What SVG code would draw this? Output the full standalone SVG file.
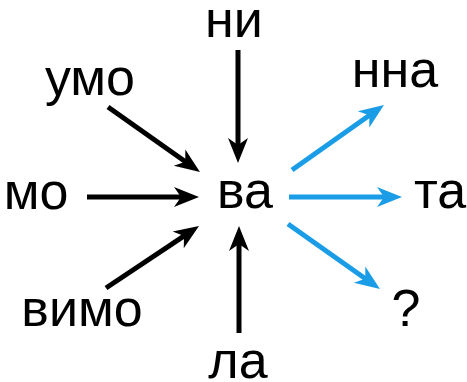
<svg xmlns="http://www.w3.org/2000/svg" width="467" height="382" viewBox="0 0 467 382">
<defs>
<style>
.t{font-family:"Liberation Sans",Arial,sans-serif;font-size:52px;fill:#000;text-anchor:middle}
.k{stroke:#000;stroke-width:5;fill:none}
.b{stroke:#1a9de6;stroke-width:5;fill:none}
</style>
<marker id="ak" markerUnits="userSpaceOnUse" markerWidth="26" markerHeight="22" viewBox="0 0 26 22" refX="9" refY="11" orient="auto"><path d="M0,1 L25,11 L0,21 L7,11 Z" fill="#000"/></marker>
<marker id="ab" markerUnits="userSpaceOnUse" markerWidth="26" markerHeight="22" viewBox="0 0 26 22" refX="9" refY="11" orient="auto"><path d="M0,1 L25,11 L0,21 L7,11 Z" fill="#1a9de6"/></marker>
</defs>
<rect width="467" height="382" fill="#fff"/>
<g id="connectors">
<line class="k" x1="238" y1="50" x2="238" y2="147" marker-end="url(#ak)"/>
<line class="k" x1="108" y1="107" x2="186.9" y2="162.8" marker-end="url(#ak)"/>
<line class="k" x1="87" y1="197" x2="183" y2="197" marker-end="url(#ak)"/>
<line class="k" x1="106" y1="288" x2="185.7" y2="234.9" marker-end="url(#ak)"/>
<line class="k" x1="239" y1="333" x2="239" y2="242" marker-end="url(#ak)"/>
<line class="b" x1="292" y1="170" x2="370.9" y2="114.2" marker-end="url(#ab)"/>
<line class="b" x1="289" y1="197" x2="386" y2="197" marker-end="url(#ab)"/>
<line class="b" x1="288" y1="224" x2="366.9" y2="279.8" marker-end="url(#ab)"/>
</g>
<g id="n-ni"><text class="t" x="234" y="37">ни</text></g>
<g id="n-umo"><text class="t" x="90" y="95">умо</text></g>
<g id="n-mo"><text class="t" x="36" y="209">мо</text></g>
<g id="n-va"><text class="t" x="245" y="208">ва</text></g>
<g id="n-vimo"><text class="t" x="82" y="326">вимо</text></g>
<g id="n-la"><text class="t" x="238" y="378">ла</text></g>
<g id="n-nna"><text class="t" x="395" y="87">нна</text></g>
<g id="n-ta"><text class="t" x="440" y="208">та</text></g>
<g id="n-q"><text class="t" x="406" y="326">?</text></g>
</svg>
